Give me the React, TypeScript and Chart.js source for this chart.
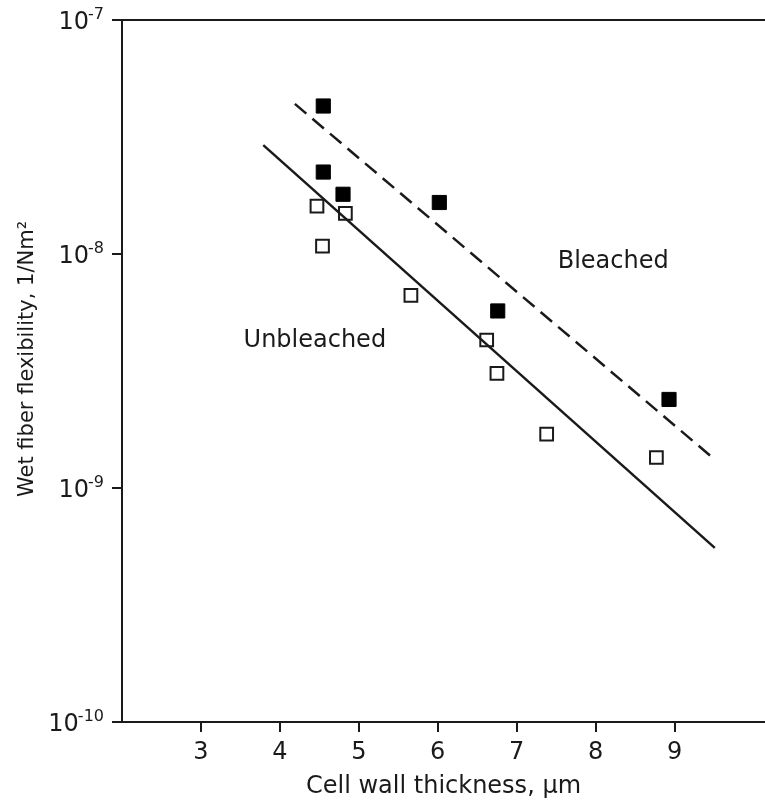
import React, { useEffect, useRef } from "react";
import { Chart, registerables } from "chart.js";

Chart.register(...registerables);

// ---- data ----
const bleachedX = [4.55, 4.55, 4.8, 6.02, 6.76, 8.93];
const bleachedY = [4.29e-8, 2.24e-8, 1.8e-8, 1.66e-8, 5.71e-9, 2.39e-9];
const unbleachedX = [4.47, 4.83, 4.54, 5.66, 6.62, 6.75, 7.38, 8.77];
const unbleachedY = [1.6e-8, 1.49e-8, 1.08e-8, 6.66e-9, 4.29e-9, 3.09e-9, 1.7e-9, 1.35e-9];
const bleachedFitX = [4.19, 9.48];
const bleachedFitY = [4.38e-8, 1.35e-9];
const unbleachedFitX = [3.79, 9.51];
const unbleachedFitY = [2.92e-8, 5.55e-10];

const xTicks = [3, 4, 5, 6, 7, 8, 9];
const yTicks = [1e-10, 1e-9, 1e-8, 1e-7];
const yTickBase = "10";
const yTickExponents = ["-10", "-9", "-8", "-7"];
const xRange = [2, 10.146];
const yRange = [1e-10, 1e-7];

const xTitle = "Cell wall thickness, \u00B5m";
const yTitle = "Wet fiber flexibility, 1/Nm\u00B2";
const seriesNames = ["Bleached", "Unbleached"];
// anchor of each series label (left end, baseline) in data units
const seriesLabelX = [7.52, 3.54];
const seriesLabelY = [8.7e-9, 4.01e-9];
// centre of the rotated y title along the axis, in data units
const yTitleAt = 3.56e-9;

const INK = "#1a1a1a";
const FONT = "DejaVu Sans";

const toPoints = (xs: number[], ys: number[]) => xs.map((x, i) => ({ x, y: ys[i] }));

const overlayPlugin = {
  id: "overlay",
  afterDraw(chart: any) {
    const { ctx, chartArea, scales } = chart;
    ctx.save();
    // top frame line
    ctx.strokeStyle = INK;
    ctx.lineWidth = 2;
    ctx.beginPath();
    ctx.moveTo(chartArea.left - 10, chartArea.top);
    ctx.lineTo(chartArea.right, chartArea.top);
    ctx.stroke();

    ctx.fillStyle = INK;
    // y tick labels 10^n
    const labelRight = chartArea.left - 18;
    yTicks.forEach((v, i) => {
      const py = scales.y.getPixelForValue(v);
      ctx.font = `16px "${FONT}"`;
      ctx.textAlign = "right";
      ctx.textBaseline = "alphabetic";
      const expW = ctx.measureText(yTickExponents[i]).width;
      ctx.fillText(yTickExponents[i], labelRight, py - 1);
      ctx.font = `24px "${FONT}"`;
      ctx.fillText(yTickBase, labelRight - expW + 1, py + 8.5);
    });

    // y title
    ctx.save();
    ctx.font = `21px "${FONT}"`;
    ctx.textAlign = "center";
    ctx.textBaseline = "alphabetic";
    ctx.translate(chartArea.left - 89, scales.y.getPixelForValue(yTitleAt));
    ctx.rotate(-Math.PI / 2);
    ctx.fillText(yTitle, 0, 0);
    ctx.restore();

    // series labels
    ctx.font = `24px "${FONT}"`;
    ctx.textAlign = "left";
    ctx.textBaseline = "alphabetic";
    seriesNames.forEach((name, i) => {
      ctx.fillText(
        name,
        scales.x.getPixelForValue(seriesLabelX[i]),
        scales.y.getPixelForValue(seriesLabelY[i])
      );
    });
    ctx.restore();
  },
};

export default function App() {
  const ref = useRef<HTMLCanvasElement | null>(null);

  useEffect(() => {
    if (!ref.current) return;
    const chart = new Chart(ref.current, {
      type: "scatter",
      data: {
        datasets: [
          {
            label: "Bleached fit",
            data: toPoints(bleachedFitX, bleachedFitY),
            showLine: true,
            borderColor: INK,
            borderWidth: 2.5,
            borderDash: [15, 8],
            pointRadius: 0,
            fill: false,
          },
          {
            label: "Unbleached fit",
            data: toPoints(unbleachedFitX, unbleachedFitY),
            showLine: true,
            borderColor: INK,
            borderWidth: 2.5,
            pointRadius: 0,
            fill: false,
          },
          {
            label: "Bleached",
            data: toPoints(bleachedX, bleachedY),
            pointStyle: "rect",
            pointRadius: 10,
            backgroundColor: "#000",
            borderColor: "#000",
            borderWidth: 1,
          },
          {
            label: "Unbleached",
            data: toPoints(unbleachedX, unbleachedY),
            pointStyle: "rect",
            pointRadius: 9,
            backgroundColor: "#fff",
            borderColor: INK,
            borderWidth: 2,
          },
        ],
      },
      options: {
        responsive: false,
        animation: false,
        devicePixelRatio: 1,
        layout: { autoPadding: false, padding: { top: 20, right: 0, bottom: 0, left: 0 } },
        plugins: { legend: { display: false }, tooltip: { enabled: false } },
        scales: {
          x: {
            type: "linear",
            min: xRange[0],
            max: xRange[1],
            afterBuildTicks: (s: any) => {
              s.ticks = xTicks.map((v) => ({ value: v }));
            },
            afterFit: (s: any) => {
              s.height = 79;
              s.paddingLeft = 0;
              s.paddingRight = 0;
            },
            border: { display: true, color: INK, width: 2 },
            grid: {
              display: true,
              drawOnChartArea: false,
              drawTicks: true,
              tickLength: 10,
              color: INK,
              lineWidth: 2,
            },
            ticks: {
              color: INK,
              font: { family: FONT, size: 24 },
              padding: 6,
              maxRotation: 0,
              autoSkip: false,
              callback: (v: any) => String(v),
            },
            title: {
              display: true,
              text: xTitle,
              color: INK,
              font: { family: FONT, size: 24 },
              padding: { top: 0, bottom: 0 },
            },
          },
          y: {
            type: "logarithmic",
            min: yRange[0],
            max: yRange[1],
            afterBuildTicks: (s: any) => {
              s.ticks = yTicks.map((v) => ({ value: v }));
            },
            afterFit: (s: any) => {
              s.width = 122;
            },
            border: { display: true, color: INK, width: 2 },
            grid: {
              display: true,
              drawOnChartArea: false,
              drawTicks: true,
              tickLength: 10,
              color: INK,
              lineWidth: 2,
            },
            ticks: { display: false },
            title: { display: false },
          },
        },
      },
      plugins: [overlayPlugin],
    } as any);
    return () => chart.destroy();
  }, []);

  return (
    <div style={{ position: "absolute", left: 0, top: 0, width: 765, height: 801 }}>
      <canvas ref={ref} width={765} height={801} style={{ display: "block" }} />
    </div>
  );
}
